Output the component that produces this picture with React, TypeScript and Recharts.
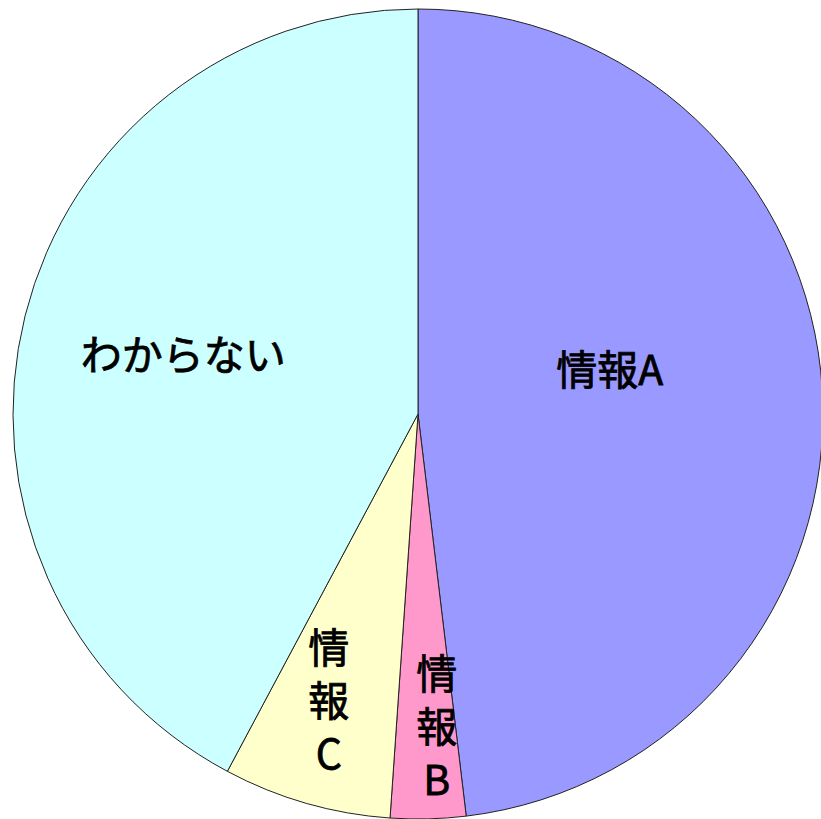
import { Cell, Pie, PieChart } from "recharts";

const categories = ["情報A", "情報B", "情報C", "わからない"];
const shares = [48.1, 3.0, 6.7, 42.2];
const colors = ["#9999FF", "#FF99CC", "#FFFFCC", "#CCFFFF"];

const data = categories.map((name, i) => ({ name, value: shares[i] }));

// label placement: radius from centre, nudges, and whether stacked vertically
const labelPos: Record<string, { r: number; dx: number; dy: number; vertical: boolean }> = {
  "情報A": { r: 195, dx: -3, dy: -35, vertical: false },
  "情報B": { r: 310, dx: 11, dy: 0, vertical: true },
  "情報C": { r: 298, dx: -7, dy: -2, vertical: true },
  "わからない": { r: 240, dx: -2, dy: -4, vertical: false },
};

const RAD = Math.PI / 180;
const fontFamily = '"Noto Sans CJK JP", "Noto Sans", sans-serif';

function renderLabel(props: any) {
  const { cx, cy, midAngle, name } = props;
  const pos = labelPos[name];
  const x = cx + pos.r * Math.cos(-midAngle * RAD) + pos.dx;
  const y = cy + pos.r * Math.sin(-midAngle * RAD) + pos.dy;
  const common = {
    fill: "#000",
    stroke: "#000",
    strokeWidth: 0.8,
    fontFamily,
    fontSize: 41,
    fontWeight: 400,
    textAnchor: "middle" as const,
    dominantBaseline: "central" as const,
  };
  if (!pos.vertical) {
    return (
      <text key={name} x={x} y={y} {...common}>
        {name}
      </text>
    );
  }
  const chars = Array.from(name);
  const step = 53;
  const top = y - ((chars.length - 1) * step) / 2;
  return (
    <text key={name} x={x} y={top} {...common}>
      {chars.map((c, i) => (
        <tspan key={i} x={x} dy={i === 0 ? 0 : step}>
          {c}
        </tspan>
      ))}
    </text>
  );
}

export default function App() {
  return (
    <div style={{ position: "absolute", left: 0, top: 0, width: 821, height: 819, background: "#fff" }}>
      <PieChart width={821} height={819} margin={{ top: 0, right: 0, bottom: 0, left: 0 }}>
        <Pie
          data={data}
          dataKey="value"
          nameKey="name"
          cx={418}
          cy={414}
          outerRadius={405}
          startAngle={90}
          endAngle={-270}
          stroke="#222"
          strokeWidth={1}
          label={renderLabel}
          labelLine={false}
          isAnimationActive={false}
        >
          {data.map((d, i) => (
            <Cell key={d.name} fill={colors[i]} />
          ))}
        </Pie>
      </PieChart>
    </div>
  );
}
